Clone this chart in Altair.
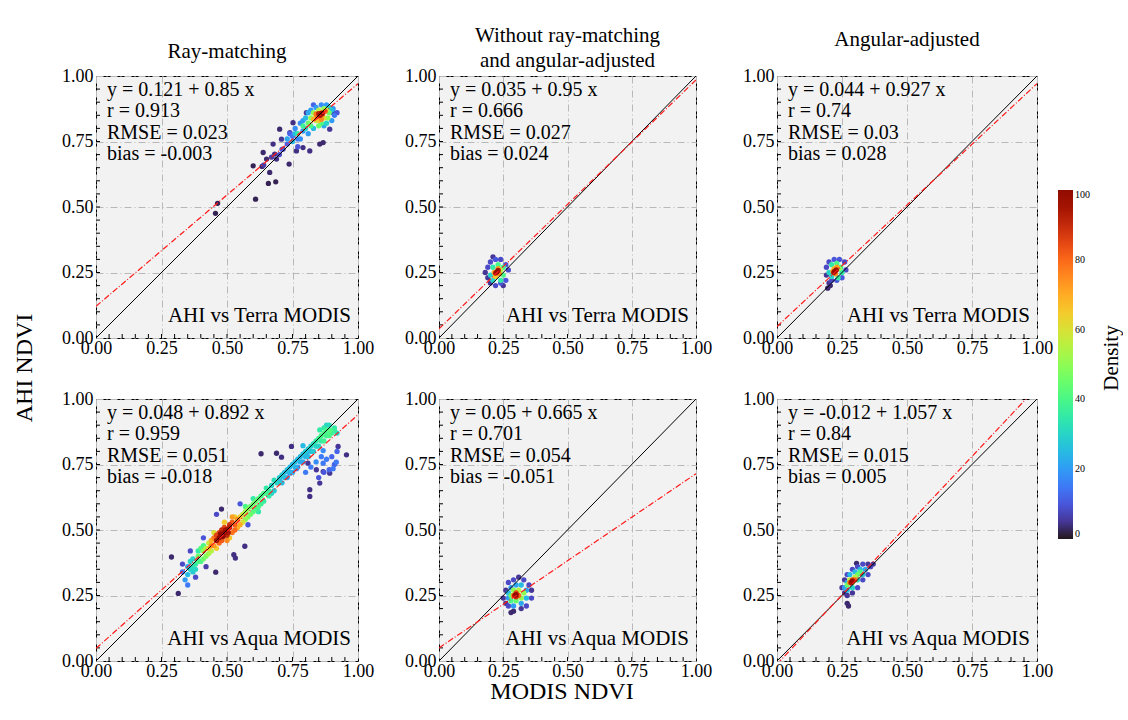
import altair as alt
import pandas as pd

FONT = "Liberation Serif"

COL_TITLES = ["Ray-matching", ["Without ray-matching", "and angular-adjusted"], "Angular-adjusted"]
TITLE_OFFSETS = [5, -4, 17]
SENSORS = ["AHI vs Terra MODIS", "AHI vs Aqua MODIS"]
Y_TITLE = "AHI NDVI"
X_TITLE = "MODIS NDVI"
LEGEND_TITLE = "Density"
INTERCEPT = [[0.121, 0.035, 0.044], [0.048, 0.05, -0.012]]
SLOPE = [[0.85, 0.95, 0.927], [0.892, 0.665, 1.057]]
R_VAL = [["0.913", "0.666", "0.74"], ["0.959", "0.701", "0.84"]]
RMSE = [["0.023", "0.027", "0.03"], ["0.051", "0.054", "0.015"]]
BIAS = [["-0.003", "0.024", "0.028"], ["-0.018", "-0.051", "0.005"]]
MAJOR = [0.0, 0.25, 0.5, 0.75, 1.0]
MINOR = [0.05, 0.10, 0.15, 0.20, 0.25, 0.30, 0.35, 0.40, 0.45, 0.50,
         0.55, 0.60, 0.65, 0.70, 0.75, 0.80, 0.85, 0.90, 0.95]
LEGEND_VALUES = [0, 20, 40, 60, 80, 100]

# (MODIS NDVI, AHI NDVI, density)
P11 = [(0.464, 0.514, 2), (0.456, 0.476, 2), (0.609, 0.530, 2), (0.658, 0.590, 2), (0.686, 0.596, 2),
       (0.600, 0.657, 2), (0.634, 0.655, 3), (0.663, 0.632, 3), (0.651, 0.683, 3), (0.689, 0.683, 4),
       (0.737, 0.664, 3), (0.676, 0.740, 4), (0.708, 0.759, 5), (0.740, 0.784, 5), (0.765, 0.714, 4),
       (0.790, 0.727, 4), (0.816, 0.714, 4), (0.854, 0.740, 3), (0.803, 0.860, 5), (0.752, 0.822, 4),
       (0.701, 0.797, 3), (0.714, 0.721, 5), (0.682, 0.702, 4), (0.867, 0.746, 3), (0.892, 0.797, 5),
       (0.905, 0.860, 6), (0.638, 0.708, 3), (0.64, 0.66, 6), (0.67, 0.69, 6), (0.70, 0.70, 8),
       (0.73, 0.74, 12), (0.75, 0.77, 15), (0.77, 0.76, 15), (0.76, 0.80, 18), (0.79, 0.79, 20),
       (0.79, 0.83, 20), (0.81, 0.78, 20), (0.83, 0.80, 25), (0.81, 0.86, 22), (0.84, 0.88, 20),
       (0.86, 0.89, 18), (0.88, 0.89, 20), (0.905, 0.875, 18), (0.91, 0.85, 15), (0.90, 0.83, 20),
       (0.87, 0.81, 22), (0.71, 0.72, 10), (0.73, 0.76, 22), (0.75, 0.75, 25),
       (0.78, 0.76, 18), (0.80, 0.84, 25), (0.82, 0.87, 20), (0.89, 0.88, 30), (0.90, 0.87, 25),
       (0.88, 0.82, 30), (0.86, 0.82, 40), (0.76, 0.78, 25), (0.78, 0.82, 18), (0.74, 0.78, 12),
       (0.77, 0.73, 10), (0.92, 0.86, 10), (0.83, 0.89, 12),
       (0.77, 0.78, 35), (0.79, 0.81, 38), (0.81, 0.82, 45), (0.82, 0.84, 50), (0.84, 0.83, 55),
       (0.85, 0.87, 55), (0.87, 0.875, 50), (0.89, 0.86, 45), (0.885, 0.84, 50), (0.85, 0.81, 45),
       (0.83, 0.86, 50), (0.80, 0.80, 30), (0.82, 0.81, 40), (0.84, 0.85, 60), (0.86, 0.86, 65),
       (0.88, 0.87, 55), (0.87, 0.84, 60), (0.85, 0.83, 65),
       (0.83, 0.835, 70), (0.845, 0.845, 80), (0.865, 0.855, 85), (0.875, 0.865, 80),
       (0.86, 0.835, 75), (0.84, 0.855, 78), (0.855, 0.85, 95), (0.862, 0.858, 100), (0.85, 0.856, 92)]

P12 = [(0.19, 0.23, 5), (0.19, 0.27, 8), (0.20, 0.29, 8), (0.22, 0.30, 10), (0.24, 0.30, 8),
       (0.26, 0.28, 10), (0.27, 0.26, 8), (0.26, 0.22, 10), (0.24, 0.21, 10), (0.22, 0.20, 8),
       (0.20, 0.21, 5), (0.18, 0.25, 5), (0.25, 0.20, 5), (0.21, 0.31, 5),
       (0.20, 0.24, 30), (0.21, 0.27, 35), (0.23, 0.28, 40), (0.25, 0.27, 38), (0.25, 0.24, 40),
       (0.24, 0.22, 35), (0.21, 0.22, 30), (0.22, 0.24, 50), (0.24, 0.26, 55),
       (0.215, 0.25, 70), (0.23, 0.265, 72), (0.235, 0.245, 75), (0.22, 0.235, 65),
       (0.225, 0.252, 100), (0.23, 0.258, 95), (0.22, 0.248, 92)]

P13 = [(0.19, 0.24, 5), (0.19, 0.27, 8), (0.20, 0.29, 8), (0.22, 0.30, 10), (0.24, 0.30, 10),
       (0.26, 0.29, 8), (0.265, 0.26, 8), (0.25, 0.23, 10), (0.23, 0.22, 10), (0.21, 0.22, 8),
       (0.20, 0.21, 5), (0.195, 0.19, 3), (0.205, 0.20, 3),
       (0.20, 0.25, 30), (0.21, 0.28, 35), (0.23, 0.285, 40), (0.245, 0.27, 38), (0.25, 0.25, 35),
       (0.235, 0.23, 35), (0.21, 0.235, 30), (0.22, 0.25, 55), (0.24, 0.265, 50),
       (0.215, 0.255, 70), (0.23, 0.27, 72), (0.225, 0.245, 75), (0.22, 0.265, 68),
       (0.222, 0.255, 100), (0.228, 0.26, 96), (0.218, 0.25, 92)]

P21 = [(0.288, 0.397, 3), (0.314, 0.258, 3), (0.457, 0.339, 3), (0.479, 0.580, 3), (0.526, 0.406, 4),
       (0.532, 0.393, 4), (0.568, 0.438, 4), (0.630, 0.791, 3), (0.689, 0.793, 3), (0.708, 0.778, 4),
       (0.746, 0.819, 4), (0.809, 0.755, 5), (0.841, 0.730, 5), (0.867, 0.723, 5), (0.892, 0.717, 5),
       (0.816, 0.654, 4), (0.816, 0.628, 4), (0.854, 0.679, 5), (0.956, 0.787, 4), (0.924, 0.819, 5),
       (0.33, 0.37, 8), (0.38, 0.32, 8), (0.42, 0.36, 6), (0.46, 0.56, 8), (0.55, 0.60, 10),
       (0.58, 0.52, 10), (0.36, 0.42, 8), (0.41, 0.47, 10),
       (0.80, 0.72, 15), (0.82, 0.74, 15), (0.84, 0.76, 18), (0.86, 0.78, 15), (0.88, 0.77, 15),
       (0.90, 0.78, 12), (0.91, 0.75, 12), (0.89, 0.73, 12), (0.87, 0.72, 10), (0.85, 0.70, 10),
       (0.92, 0.80, 12), (0.80, 0.79, 15), (0.765, 0.734, 15), (0.803, 0.797, 18), (0.867, 0.803, 18),
       (0.917, 0.759, 15), (0.905, 0.734, 15), (0.867, 0.755, 15), (0.740, 0.717, 18), (0.701, 0.692, 20),
       (0.35, 0.29, 15), (0.33, 0.34, 15),
       (0.35, 0.33, 25), (0.36, 0.35, 30), (0.35, 0.36, 22), (0.37, 0.34, 28), (0.34, 0.31, 20),
       (0.38, 0.37, 35), (0.36, 0.38, 30), (0.37, 0.36, 32), (0.38, 0.35, 30), (0.37, 0.39, 30),
       (0.39, 0.42, 35),
       (0.67, 0.67, 30), (0.68, 0.65, 28), (0.69, 0.68, 30), (0.70, 0.70, 28), (0.71, 0.68, 25),
       (0.72, 0.72, 25), (0.73, 0.70, 22), (0.74, 0.74, 25), (0.75, 0.72, 22), (0.76, 0.76, 25),
       (0.77, 0.74, 20), (0.78, 0.78, 25), (0.79, 0.76, 22), (0.80, 0.80, 28), (0.81, 0.78, 25),
       (0.82, 0.82, 30), (0.83, 0.80, 28), (0.84, 0.84, 35), (0.85, 0.82, 30), (0.86, 0.86, 40),
       (0.87, 0.84, 38), (0.88, 0.88, 40), (0.89, 0.86, 40), (0.90, 0.88, 38), (0.91, 0.89, 35),
       (0.92, 0.87, 30), (0.88, 0.90, 30), (0.854, 0.882, 35), (0.79, 0.822, 25),
       (0.70, 0.68, 28), (0.71, 0.71, 28), (0.72, 0.70, 25), (0.73, 0.73, 26), (0.74, 0.72, 24),
       (0.75, 0.75, 25), (0.76, 0.74, 24), (0.77, 0.77, 25), (0.78, 0.76, 22), (0.79, 0.79, 26),
       (0.80, 0.78, 24), (0.81, 0.81, 28), (0.82, 0.80, 26), (0.83, 0.83, 32), (0.84, 0.82, 30),
       (0.85, 0.85, 38), (0.86, 0.84, 35), (0.87, 0.87, 40), (0.88, 0.86, 38), (0.89, 0.88, 42),
       (0.90, 0.87, 38), (0.91, 0.88, 36), (0.87, 0.89, 35), (0.89, 0.90, 32),
       (0.39, 0.40, 45), (0.40, 0.38, 40), (0.41, 0.42, 50), (0.42, 0.40, 48), (0.40, 0.43, 42),
       (0.43, 0.45, 58), (0.44, 0.42, 55), (0.39, 0.38, 40), (0.41, 0.39, 45), (0.42, 0.43, 55),
       (0.43, 0.41, 52), (0.41, 0.44, 40),
       (0.56, 0.56, 55), (0.57, 0.54, 50), (0.58, 0.58, 48), (0.59, 0.56, 45), (0.60, 0.60, 45),
       (0.61, 0.58, 40), (0.62, 0.62, 42), (0.63, 0.60, 38), (0.64, 0.64, 40), (0.66, 0.63, 35),
       (0.65, 0.66, 35), (0.57, 0.57, 52), (0.58, 0.55, 48), (0.59, 0.59, 45), (0.60, 0.57, 42),
       (0.61, 0.61, 45), (0.62, 0.59, 40), (0.63, 0.63, 40), (0.64, 0.61, 36), (0.65, 0.64, 38),
       (0.66, 0.65, 36), (0.67, 0.64, 30), (0.68, 0.69, 32), (0.60, 0.62, 35), (0.57, 0.59, 40),
       (0.62, 0.57, 35),
       (0.44, 0.46, 70), (0.45, 0.44, 72), (0.46, 0.48, 85), (0.47, 0.45, 80), (0.48, 0.50, 90),
       (0.50, 0.48, 90), (0.51, 0.52, 88), (0.53, 0.50, 80), (0.54, 0.54, 75), (0.55, 0.52, 70),
       (0.52, 0.55, 72), (0.43, 0.43, 65), (0.44, 0.44, 75), (0.45, 0.47, 78), (0.46, 0.43, 65),
       (0.47, 0.49, 85), (0.48, 0.46, 82), (0.49, 0.51, 85), (0.50, 0.46, 75), (0.52, 0.49, 78),
       (0.52, 0.53, 82), (0.53, 0.52, 80), (0.54, 0.51, 70), (0.55, 0.55, 65), (0.56, 0.53, 60),
       (0.45, 0.49, 60), (0.49, 0.53, 65), (0.51, 0.47, 65), (0.53, 0.55, 62),
       (0.47, 0.47, 98), (0.48, 0.48, 100), (0.49, 0.49, 100), (0.50, 0.50, 97), (0.46, 0.46, 95),
       (0.51, 0.51, 92), (0.475, 0.485, 99), (0.485, 0.475, 99), (0.495, 0.50, 96), (0.505, 0.49, 94)]

P22 = [(0.26, 0.22, 5), (0.26, 0.27, 5), (0.27, 0.30, 8), (0.29, 0.31, 8), (0.31, 0.32, 5),
       (0.33, 0.31, 8), (0.35, 0.29, 8), (0.36, 0.27, 5), (0.36, 0.24, 8), (0.34, 0.21, 8),
       (0.32, 0.20, 5), (0.29, 0.19, 3), (0.27, 0.21, 8), (0.25, 0.24, 5), (0.28, 0.185, 3),
       (0.27, 0.24, 20), (0.28, 0.28, 20), (0.30, 0.29, 22), (0.32, 0.29, 25), (0.34, 0.27, 22),
       (0.34, 0.24, 25), (0.32, 0.22, 22), (0.29, 0.21, 20), (0.27, 0.26, 25),
       (0.28, 0.25, 45), (0.29, 0.27, 50), (0.31, 0.27, 55), (0.33, 0.26, 50), (0.32, 0.24, 50),
       (0.30, 0.23, 45), (0.28, 0.23, 40),
       (0.29, 0.25, 75), (0.30, 0.26, 85), (0.31, 0.25, 80), (0.30, 0.245, 88),
       (0.30, 0.253, 100), (0.295, 0.25, 96)]

P23 = [(0.26, 0.26, 5), (0.25, 0.28, 5), (0.26, 0.31, 5), (0.27, 0.33, 8), (0.29, 0.35, 8),
       (0.31, 0.36, 8), (0.33, 0.37, 8), (0.35, 0.37, 5), (0.36, 0.36, 8), (0.35, 0.33, 8),
       (0.33, 0.31, 8), (0.31, 0.28, 8), (0.29, 0.26, 5), (0.27, 0.25, 5), (0.306, 0.373, 3),
       (0.27, 0.22, 3), (0.275, 0.21, 3), (0.37, 0.37, 5),
       (0.26, 0.28, 20), (0.27, 0.30, 22), (0.28, 0.33, 25), (0.30, 0.34, 25), (0.32, 0.35, 25),
       (0.34, 0.35, 22), (0.33, 0.33, 28), (0.31, 0.31, 30), (0.29, 0.28, 30), (0.27, 0.27, 25),
       (0.27, 0.29, 45), (0.28, 0.31, 55), (0.30, 0.32, 55), (0.31, 0.33, 45), (0.32, 0.34, 40),
       (0.29, 0.30, 60),
       (0.28, 0.30, 75), (0.29, 0.31, 85), (0.30, 0.31, 80),
       (0.29, 0.305, 100), (0.285, 0.30, 95)]

POINTS = [[P11, P12, P13], [P21, P22, P23]]
WIDTHS = [262, 257, 260]
HEIGHT = 262

LEG = alt.Legend(
    title=None, orient="none", legendX=962, legendY=114, direction="vertical",
    gradientLength=349, gradientThickness=15, values=LEGEND_VALUES,
    labelFont=FONT, labelFontSize=10, labelColor="black",
)


def text_layer(s, **mark):
    return alt.Chart(pd.DataFrame({"t": [s]})).mark_text(font=FONT, color="black", **mark)


def make_panel(r, c):
    w, h = WIDTHS[c], HEIGHT
    sc = alt.Scale(domain=[0, 1], nice=False, zero=False)
    common = dict(values=MAJOR, format=".2f", title=None, grid=True, gridDash=[7, 3, 1, 3],
                  gridColor="#b8b8b8", gridWidth=1, ticks=False, domain=False,
                  labelFont=FONT, labelFontSize=18, labelColor="black", labelFlush=False)
    xax = alt.Axis(labelPadding=1, **common)
    yax = alt.Axis(labelPadding=3, **common)
    X = alt.X("x:Q", scale=sc, axis=xax)
    Y = alt.Y("y:Q", scale=sc, axis=yax)

    df = pd.DataFrame(POINTS[r][c], columns=["x", "y", "d"]).sort_values("d")
    pts = alt.Chart(df).mark_circle(size=28, opacity=1).encode(
        x=X, y=Y,
        color=alt.Color("d:Q", scale=alt.Scale(scheme="turbo", domain=[0, 100]), legend=LEG),
        order=alt.Order("d:Q"),
    )
    xt = alt.Chart(pd.DataFrame({"x": MINOR})).mark_rule(color="black", strokeWidth=1).encode(
        x=X, y=alt.value(h), y2=alt.value(h - 4))
    yt = alt.Chart(pd.DataFrame({"y": MINOR})).mark_rule(color="black", strokeWidth=1).encode(
        y=Y, x=alt.value(0), x2=alt.value(4))

    a, b = INTERCEPT[r][c], SLOPE[r][c]
    one = alt.Chart(pd.DataFrame({"x": [0.0, 1.0], "y": [0.0, 1.0]})).mark_line(
        color="black", strokeWidth=1, clip=True).encode(x=X, y=Y)
    fit = alt.Chart(pd.DataFrame({"x": [0.0, 1.0], "y": [a, a + b]})).mark_line(
        color="#ff1a1a", strokeWidth=1.2, strokeDash=[6, 2, 1, 2], clip=True).encode(x=X, y=Y)

    stats = "\n".join([f"y = {a} + {b} x", f"r = {R_VAL[r][c]}",
                       f"RMSE = {RMSE[r][c]}", f"bias = {BIAS[r][c]}"])
    st = text_layer(stats, align="left", baseline="top", fontSize=20, lineHeight=21.3,
                    lineBreak="\n").encode(text="t:N", x=alt.value(11), y=alt.value(4))
    lab = text_layer(SENSORS[r], align="right", baseline="alphabetic", fontSize=21).encode(
        text="t:N", x=alt.value(w - 7), y=alt.value(h - 16))

    layers = [xt, yt, pts, one, fit, st, lab]
    if r == 0 and c == 2:
        layers.append(text_layer(LEGEND_TITLE, angle=270, align="center", baseline="middle",
                                 fontSize=21).encode(text="t:N", x=alt.value(335), y=alt.value(282)))
    if r == 0 and c == 0:
        layers.append(text_layer(Y_TITLE, angle=270, align="center", baseline="middle",
                                 fontSize=24).encode(text="t:N", x=alt.value(-71), y=alt.value(292)))
    if r == 1 and c == 1:
        layers.append(text_layer(X_TITLE, align="center", baseline="middle",
                                 fontSize=24).encode(text="t:N", x=alt.value(123), y=alt.value(293)))
    layer = alt.layer(*layers).properties(width=w, height=h)
    if r == 0:
        layer = layer.properties(title=alt.TitleParams(
            COL_TITLES[c], font=FONT, fontSize=21, fontWeight="normal", color="black",
            anchor="middle", offset=TITLE_OFFSETS[c], lineHeight=25))
    return layer


panels = [make_panel(r, c) for r in range(2) for c in range(3)]

chart = alt.concat(
    *panels, columns=3, spacing={"row": 61, "column": 81}, bounds="flush",
).properties(
    padding={"left": 12, "top": 24, "right": 0, "bottom": 2}
).configure(font=FONT).configure_view(stroke="black", strokeWidth=1, fill="#f2f2f2")

chart.save("out.html", embed_options={"renderer": "svg", "actions": False})
